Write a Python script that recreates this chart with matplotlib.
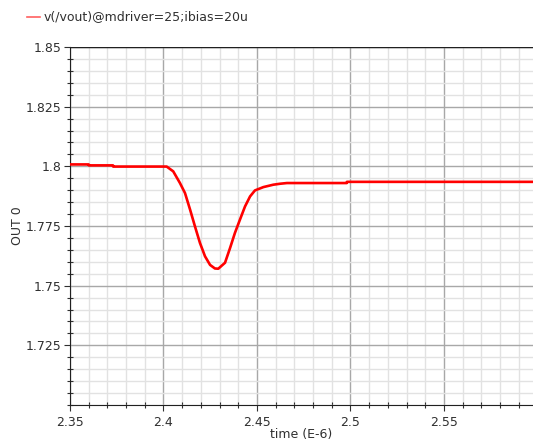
import matplotlib
matplotlib.use('Agg')
import matplotlib.pyplot as plt
from matplotlib.ticker import MultipleLocator, FixedLocator
from matplotlib.lines import Line2D

# transient waveform (time in us, volts)
time_us = [2.350, 2.360, 2.3601, 2.373, 2.3731, 2.4017, 2.4052, 2.4088, 2.4115,
           2.4142, 2.4168, 2.4195, 2.4222, 2.4249, 2.4275, 2.4293, 2.4329,
           2.4356, 2.4382, 2.4409, 2.4436, 2.4463, 2.4489, 2.4534, 2.4587,
           2.4623, 2.4660, 2.4980, 2.4981, 2.5976]
vout = [1.8008, 1.8008, 1.8004, 1.8004, 1.7999, 1.7999, 1.7979, 1.7930, 1.7888,
        1.7819, 1.7749, 1.7679, 1.7623, 1.7587, 1.7572, 1.7571, 1.7596,
        1.7658, 1.7721, 1.7777, 1.7832, 1.7874, 1.7899, 1.7913, 1.7923,
        1.7927, 1.7930, 1.7930, 1.7935, 1.7935]

x_ticks = [2.35, 2.4, 2.45, 2.5, 2.55]
x_tick_labels = ['2.35', '2.4', '2.45', '2.5', '2.55']
y_ticks = [1.725, 1.75, 1.775, 1.8, 1.825, 1.85]
y_tick_labels = ['1.725', '1.75', '1.775', '1.8', '1.825', '1.85']
trace_label = 'v(/vout)@mdriver=25;ibias=20u'

fig = plt.figure(figsize=(5.33, 4.45), dpi=100)
ax = fig.add_axes([70 / 533, 40 / 445, 463 / 533, 358 / 445])

ax.plot(time_us, vout, color='#ff0000', linewidth=1.9, label=trace_label, zorder=3,
        solid_joinstyle='round')

ax.set_xlim(2.35, 2.5976)
ax.set_ylim(1.70, 1.85)
ax.xaxis.set_major_locator(FixedLocator(x_ticks))
ax.set_xticklabels(x_tick_labels)
ax.yaxis.set_major_locator(FixedLocator(y_ticks))
ax.set_yticklabels(y_tick_labels)
ax.xaxis.set_minor_locator(MultipleLocator(0.01))
ax.yaxis.set_minor_locator(MultipleLocator(0.005))

ax.grid(which='major', color='#a8a8a8', linewidth=1.0, zorder=1)
ax.grid(which='minor', color='#e2e2e2', linewidth=1.0, zorder=0)
ax.set_axisbelow(True)

ax.tick_params(which='major', direction='out', length=4, width=0.8, labelsize=9,
               colors='#303030', pad=2)
ax.tick_params(which='minor', direction='inout', length=4, width=0.8, color='#303030')
ax.tick_params(axis='x', which='major', pad=4)

for side in ['top', 'right']:
    ax.spines[side].set_visible(False)
for side in ['left', 'bottom']:
    ax.spines[side].set_color('#202020')
ax.axhline(1.85, color='#202020', linewidth=1.0, zorder=4)

ax.set_xlabel('time (E-6)', fontsize=9, color='#303030', labelpad=-1)
ax.set_ylabel('OUT 0', fontsize=9, color='#303030', labelpad=1)

# legend line in the top-left corner, outside the axes
fig.add_artist(Line2D([27 / 533, 40 / 533], [1 - 17 / 445, 1 - 17 / 445],
                      color='#ff6060', linewidth=1.2))
fig.text(44 / 533, 1 - 17 / 445, trace_label, fontsize=9, color='#303030',
         va='center', ha='left')

fig.savefig('out.png', dpi=100)
